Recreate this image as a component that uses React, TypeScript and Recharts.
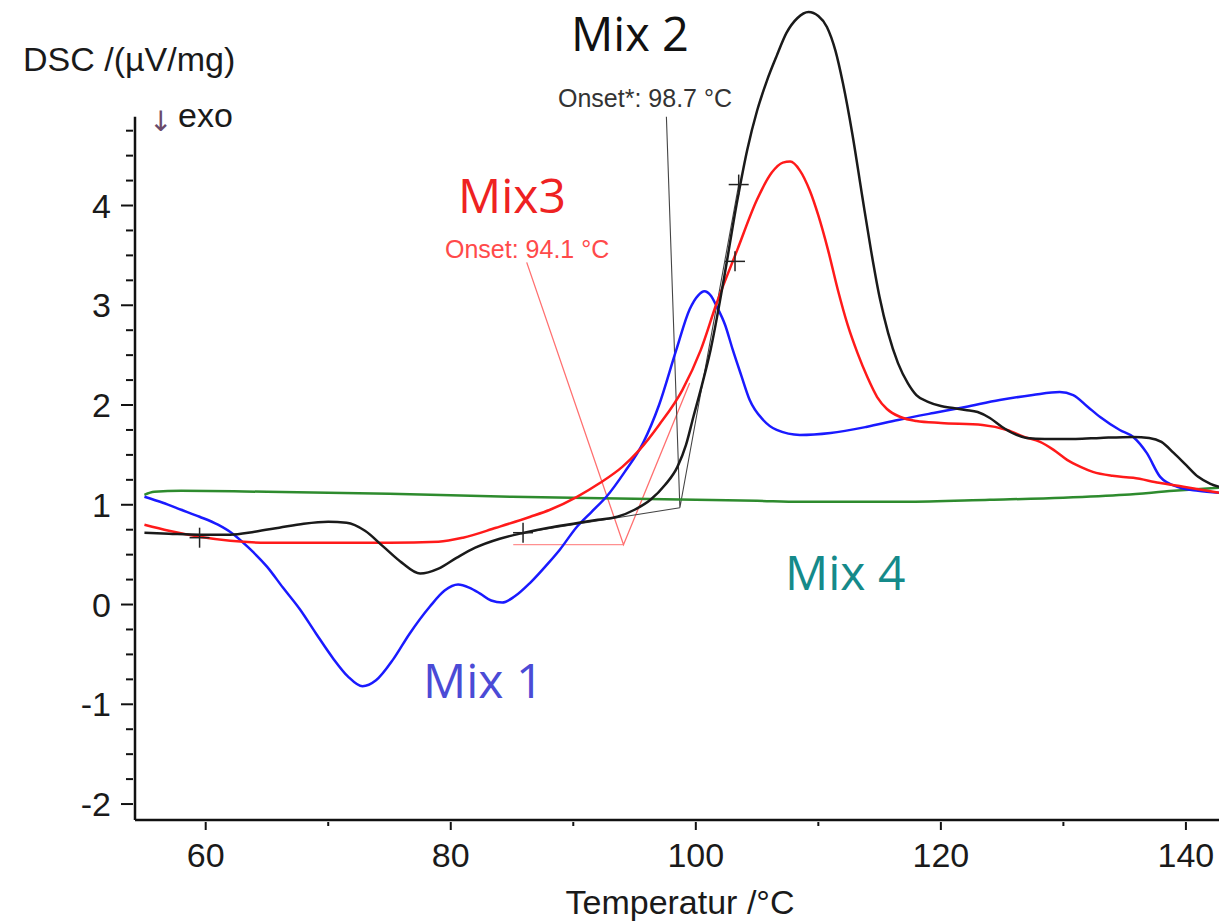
import React from "react";
import { ComposedChart, Line, XAxis, YAxis, ReferenceLine, ReferenceDot } from "recharts";

const X_MIN = 54.23;
const X_MAX = 142.7;
const Y_MIN = -2.16;
const Y_MAX = 6.0;
const Y_AXIS_TOP = 4.89;

const xTicks = [60, 70, 80, 90, 100, 110, 120, 130, 140];
const yTicks = [-2, -1.75, -1.5, -1.25, -1, -0.75, -0.5, -0.25, 0, 0.25, 0.5, 0.75, 1, 1.25, 1.5, 1.75, 2, 2.25, 2.5, 2.75, 3, 3.25, 3.5, 3.75, 4, 4.25, 4.5, 4.75];

// Mix 2 (black)
const mix2T = [55.0, 57, 59.5, 62, 64, 66, 68, 70, 71.5, 73, 74.5, 76, 77.5, 79, 80.5, 82, 84, 86, 88, 90, 92, 93.6, 95, 96.3, 97.5, 98.5, 99.2, 99.8, 100.5, 101.2, 102.2, 103.4, 104.2, 105, 105.8, 106.6, 107.4, 108.3, 109.2, 110, 110.7, 111.4, 112, 112.8, 113.6, 114.3, 115, 115.7, 116.5, 117.3, 118, 119, 120, 121, 122, 123, 124, 125, 126, 127, 128.5, 131, 133, 135.7, 137, 138, 139, 140, 141, 142, 142.7];
const mix2V = [0.72, 0.71, 0.70, 0.70, 0.73, 0.77, 0.81, 0.83, 0.82, 0.74, 0.58, 0.42, 0.31, 0.36, 0.47, 0.57, 0.66, 0.72, 0.77, 0.81, 0.85, 0.88, 0.95, 1.05, 1.2, 1.38, 1.6, 1.88, 2.2, 2.55, 3.2, 4.06, 4.56, 4.95, 5.25, 5.5, 5.73, 5.88, 5.94, 5.9, 5.79, 5.55, 5.23, 4.7, 4.08, 3.55, 3.08, 2.72, 2.42, 2.22, 2.1, 2.03, 1.99, 1.97, 1.95, 1.93, 1.87, 1.78, 1.71, 1.67, 1.66, 1.66, 1.67, 1.68, 1.67, 1.63, 1.52, 1.40, 1.28, 1.21, 1.18];

// Mix3 (red)
const mix3T = [55.0, 57, 59.5, 62, 65, 70, 75, 79, 81, 83.7, 86.5, 88.1, 90.3, 92.2, 94, 95.4, 97, 98.9, 100.4, 101.7, 103.4, 105, 106.2, 107.1, 107.7, 108.5, 109.3, 110, 110.8, 111.6, 112.4, 113.2, 114, 114.8, 115.6, 116.7, 118, 120, 123.4, 125.4, 126.8, 128.1, 129.2, 130.3, 131.4, 132.4, 134, 135.7, 137.8, 139.8, 142.7];
const mix3V = [0.80, 0.74, 0.68, 0.64, 0.62, 0.62, 0.62, 0.63, 0.67, 0.77, 0.88, 0.95, 1.08, 1.22, 1.38, 1.55, 1.8, 2.15, 2.55, 3.02, 3.56, 4.06, 4.33, 4.43, 4.44, 4.35, 4.15, 3.9, 3.55, 3.15, 2.8, 2.52, 2.28, 2.08, 1.96, 1.88, 1.84, 1.82, 1.80, 1.75, 1.68, 1.63, 1.55, 1.45, 1.38, 1.33, 1.29, 1.27, 1.22, 1.18, 1.12];

// Mix 1 (blue)
const mix1T = [55.0, 56.5, 58, 59.5, 61, 62.2, 63.5, 65, 66.3, 67.7, 69, 70.4, 71.6, 72.8, 73.9, 75.3, 76.6, 78.3, 79.5, 80.6, 81.5, 82.4, 83.3, 84.2, 85.2, 86.5, 88, 88.9, 90.3, 91.5, 92.7, 94.2, 95.7, 97, 98.4, 99.5, 100.2, 100.7, 101.2, 101.7, 102.4, 103, 103.7, 104.4, 105.5, 106.6, 108.5, 111, 113.9, 116.5, 119.4, 122, 124.8, 127.5, 129.7, 130.8, 132, 133, 134.6, 135.7, 136.8, 137.9, 139.3, 141, 142.7];
const mix1V = [1.08, 1.02, 0.95, 0.88, 0.80, 0.71, 0.57, 0.38, 0.17, -0.05, -0.29, -0.54, -0.72, -0.82, -0.76, -0.55, -0.3, -0.02, 0.14, 0.20, 0.17, 0.11, 0.04, 0.02, 0.08, 0.22, 0.42, 0.55, 0.78, 0.93, 1.08, 1.33, 1.62, 2.0, 2.55, 2.96, 3.1, 3.14, 3.1, 2.99, 2.8, 2.56, 2.3, 2.05, 1.85, 1.75, 1.70, 1.72, 1.78, 1.85, 1.92, 1.98, 2.05, 2.10, 2.13, 2.10, 1.98, 1.88, 1.75, 1.68, 1.52, 1.28, 1.18, 1.14, 1.12];

// Mix 4 (green)
const mix4T = [55.0, 55.8, 58, 65, 75, 85, 95, 100, 105, 108.5, 112, 117, 124, 130, 135, 139, 142.7];
const mix4V = [1.10, 1.13, 1.14, 1.13, 1.11, 1.08, 1.06, 1.05, 1.04, 1.03, 1.03, 1.03, 1.05, 1.07, 1.10, 1.14, 1.17];

// Onset constructions
const onsetRedT = [86.2, 94.1, 99.5];
const onsetRedV = [3.43, 0.60, 2.22];
const baseRedT = [85.1, 94.1];
const baseRedV = [0.60, 0.60];
const onsetBlackT = [97.6, 98.7, 103.5];
const onsetBlackV = [4.89, 0.97, 4.21];
const baseBlackT = [85.9, 98.7];
const baseBlackV = [0.72, 0.97];

// Evaluation markers (+)
const markerT = [59.5, 85.9, 103.5, 103.2];
const markerV = [0.67, 0.72, 4.21, 3.44];

const zip = (ts: number[], vs: number[]) => ts.map((t, i) => ({ t, v: vs[i] }));

const mix2 = zip(mix2T, mix2V);
const mix3 = zip(mix3T, mix3V);
const mix1 = zip(mix1T, mix1V);
const mix4 = zip(mix4T, mix4V);
const onsetRed = zip(onsetRedT, onsetRedV);
const baseRed = zip(baseRedT, baseRedV);
const onsetBlack = zip(onsetBlackT, onsetBlackV);
const baseBlack = zip(baseBlackT, baseBlackV);
const markers = zip(markerT, markerV);

const AX_FONT = "'Liberation Sans', Arial, sans-serif";
const MIX_FONT = "'Open Sans', sans-serif";

const XTick = (props: any) => {
  const { x, y, payload } = props;
  const major = payload.value % 20 === 0;
  return (
    <g>
      <line x1={x} y1={y} x2={x} y2={y + (major ? 8 : 4)} stroke="#111" strokeWidth={2} />
      {major && (
        <text x={x} y={y + 45} textAnchor="middle" fontFamily={AX_FONT} fontSize={34} fill="#1a1a1a">
          {payload.value}
        </text>
      )}
    </g>
  );
};

const YTick = (props: any) => {
  const { x, y, payload } = props;
  const major = Number.isInteger(payload.value);
  return (
    <g>
      <line x1={x - (major ? 12 : 7)} y1={y} x2={x} y2={y} stroke="#111" strokeWidth={2} />
      {major && (
        <text x={x - 22} y={y + 12} textAnchor="end" fontFamily={AX_FONT} fontSize={34} fill="#1a1a1a">
          {payload.value}
        </text>
      )}
    </g>
  );
};

const Cross = (props: any) => {
  const { cx, cy } = props;
  return (
    <g>
      <line x1={cx - 10} y1={cy} x2={cx + 10} y2={cy} stroke="#222" strokeWidth={1.5} />
      <line x1={cx} y1={cy - 10} x2={cx} y2={cy + 10} stroke="#222" strokeWidth={1.5} />
    </g>
  );
};

export default function App() {
  return (
    <div style={{ position: "absolute", left: 0, top: 0, width: 1219, height: 922, background: "#fff" }}>
      <ComposedChart width={1219} height={922} margin={{ top: 6, right: 0, bottom: 0, left: 0 }}>
        <XAxis
          type="number"
          dataKey="t"
          domain={[X_MIN, X_MAX]}
          allowDataOverflow
          ticks={xTicks}
          interval={0}
          tick={<XTick />}
          tickSize={0}
          tickLine={false}
          axisLine={{ stroke: "#111", strokeWidth: 2.5 }}
          height={102}
        />
        <YAxis
          type="number"
          dataKey="v"
          domain={[Y_MIN, Y_MAX]}
          allowDataOverflow
          ticks={yTicks}
          interval={0}
          tick={<YTick />}
          tickSize={0}
          tickLine={false}
          axisLine={false}
          width={135}
        />
        <ReferenceLine
          segment={[{ x: X_MIN, y: Y_MIN }, { x: X_MIN, y: Y_AXIS_TOP }]}
          stroke="#111"
          strokeWidth={2.5}
          ifOverflow="visible"
        />
        <Line data={baseRed} dataKey="v" type="linear" stroke="#ff9090" strokeWidth={1.3} dot={false} isAnimationActive={false} />
        <Line data={onsetRed} dataKey="v" type="linear" stroke="#ff7070" strokeWidth={1.3} dot={false} isAnimationActive={false} />
        <Line data={baseBlack} dataKey="v" type="linear" stroke="#444" strokeWidth={1.1} dot={false} isAnimationActive={false} />
        <Line data={onsetBlack} dataKey="v" type="linear" stroke="#444" strokeWidth={1.1} dot={false} isAnimationActive={false} />
        <Line data={mix4} dataKey="v" type="monotone" stroke="#2e8b2e" strokeWidth={2.5} dot={false} isAnimationActive={false} />
        <Line data={mix1} dataKey="v" type="monotone" stroke="#1a1aff" strokeWidth={2.5} dot={false} isAnimationActive={false} />
        <Line data={mix3} dataKey="v" type="monotone" stroke="#ff1a1a" strokeWidth={2.5} dot={false} isAnimationActive={false} />
        <Line data={mix2} dataKey="v" type="monotone" stroke="#1a1a1a" strokeWidth={2.5} dot={false} isAnimationActive={false} />
        {markers.map((m, i) => (
          <ReferenceDot key={i} x={m.t} y={m.v} ifOverflow="visible" shape={(p: any) => <Cross {...p} />} />
        ))}
      </ComposedChart>
      <svg width={1219} height={922} style={{ position: "absolute", left: 0, top: 0, pointerEvents: "none" }}>
        <text x={23} y={71} fontFamily={AX_FONT} fontSize={34} fill="#1a1a1a">DSC /(µV/mg)</text>
        <text x={149} y={131} fontFamily="'DejaVu Sans', sans-serif" fontSize={28} fill="#6a4a6a">↓</text>
        <text x={178} y={127} fontFamily={AX_FONT} fontSize={34} fill="#1a1a1a">exo</text>
        <text x={680} y={914} textAnchor="middle" fontFamily={AX_FONT} fontSize={34} fill="#1a1a1a">Temperatur /°C</text>
        <text x={558} y={107} fontFamily={AX_FONT} fontSize={25} fill="#333">Onset*: 98.7 °C</text>
        <text x={445} y={258} fontFamily={AX_FONT} fontSize={25} fill="#ff4a4a">Onset: 94.1 °C</text>
        <text x={571} y={51} fontFamily={MIX_FONT} fontSize={47} fill="#111">Mix 2</text>
        <text x={458} y={213} fontFamily={MIX_FONT} fontSize={48} fill="#ee2222">Mix3</text>
        <text x={423} y={698} fontFamily={MIX_FONT} fontSize={48} fill="#4b4bd6">Mix 1</text>
        <text x={785} y={590} fontFamily={MIX_FONT} fontSize={48} fill="#158a8a">Mix 4</text>
      </svg>
    </div>
  );
}
